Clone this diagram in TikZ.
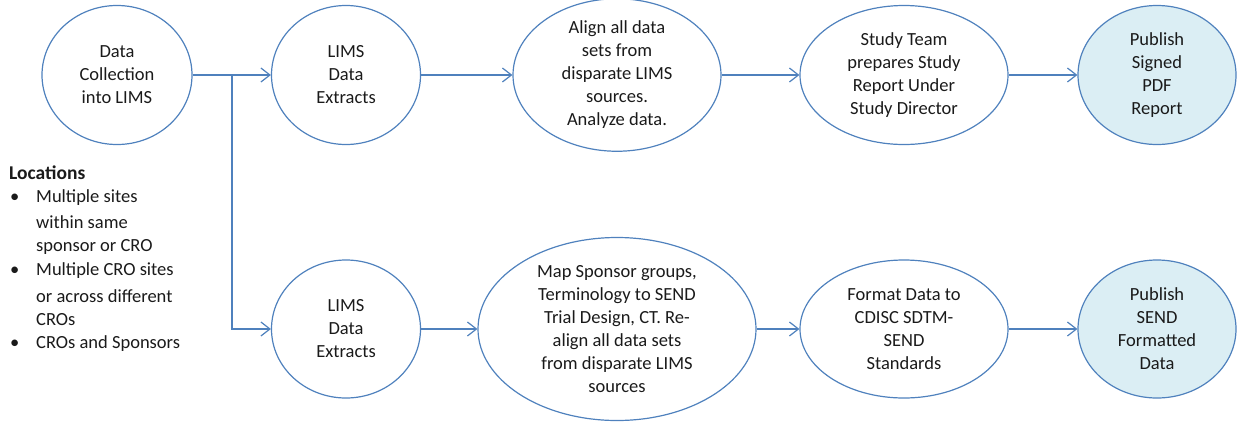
\documentclass[tikz,border=0pt]{standalone}
\usepackage{fontspec}
\setmainfont{Carlito}
\usetikzlibrary{shapes.geometric,arrows.meta}
\definecolor{oblue}{HTML}{4F81BD}
\definecolor{pfill}{HTML}{DBEEF4}
\definecolor{txt}{HTML}{1A1A1A}
\begin{document}
\begin{tikzpicture}[x=1pt,y=-1pt,
  bub/.style={ellipse,draw=oblue,line width=1.2pt,inner sep=0pt,align=center,
    text=txt,font=\fontsize{18.5}{23}\selectfont},
  pub/.style={bub,fill=pfill},
  arr/.style={draw=oblue,line width=1.2pt,-{Straight Barb[length=9pt,width=14pt]}},
  loc/.style={anchor=west,inner sep=0pt,text=txt,font=\fontsize{18.5}{23}\selectfont}]
\useasboundingbox (0,0) rectangle (1237,421);
% top row
\node[bub,minimum width=150,minimum height=139] (dc) at (117,75) {Data\\Collection\\into LIMS};
\node[bub,minimum width=149,minimum height=139] (l1) at (346,75) {LIMS\\Data\\Extracts};
\node[bub,minimum width=208,minimum height=139] (al) at (617,75) {Align all data\\sets from\\disparate LIMS\\sources.\\Analyze data.};
\node[bub,minimum width=208,minimum height=139] (st) at (904,75) {Study Team\\prepares Study\\Report Under\\Study Director};
\node[pub,minimum width=158,minimum height=139] (p1) at (1157,75) {Publish\\Signed\\PDF\\Report};
% bottom row
\node[bub,minimum width=149,minimum height=138] (l2) at (346,329) {LIMS\\Data\\Extracts};
\node[bub,minimum width=278,minimum height=183] (mp) at (617,329) {Map Sponsor groups,\\Terminology to SEND\\Trial Design, CT. Re-\\align all data sets\\from disparate LIMS\\sources};
\node[bub,minimum width=208,minimum height=138] (fd) at (904,329) {Format Data to\\CDISC SDTM-\\SEND\\Standards};
\node[pub,minimum width=158,minimum height=138] (p2) at (1157,329) {Publish\\SEND\\Formatted\\Data};
% connectors
\coordinate (br) at (232,75);
\draw[arr] (dc.east) -- (l1.west);
\draw[arr] (br) |- (l2.west);
\draw[arr] (l1.east) -- (al.west);
\draw[arr] (al.east) -- (st.west);
\draw[arr] (st.east) -- (p1.west);
\draw[arr] (l2.east) -- (mp.west);
\draw[arr] (mp.east) -- (fd.west);
\draw[arr] (fd.east) -- (p2.west);
% locations
\node[loc,font=\fontsize{19.5}{23}\selectfont\bfseries] (lh) at (9,173) {Locations};
\node[loc] (b1) at (10,198) {•};
\node[loc] (t1) at (36,198) {Multiple sites};
\node[loc] (t2) at (36,222) {within same};
\node[loc] (t3) at (36,247) {sponsor or CRO};
\node[loc] (b2) at (10,271) {•};
\node[loc] (t4) at (36,271) {Multiple CRO sites};
\node[loc] (t5) at (36,296) {or across different};
\node[loc] (t6) at (36,320) {CROs};
\node[loc] (b3) at (10,344) {•};
\node[loc] (t7) at (36,344) {CROs and Sponsors};
\end{tikzpicture}
\end{document}
